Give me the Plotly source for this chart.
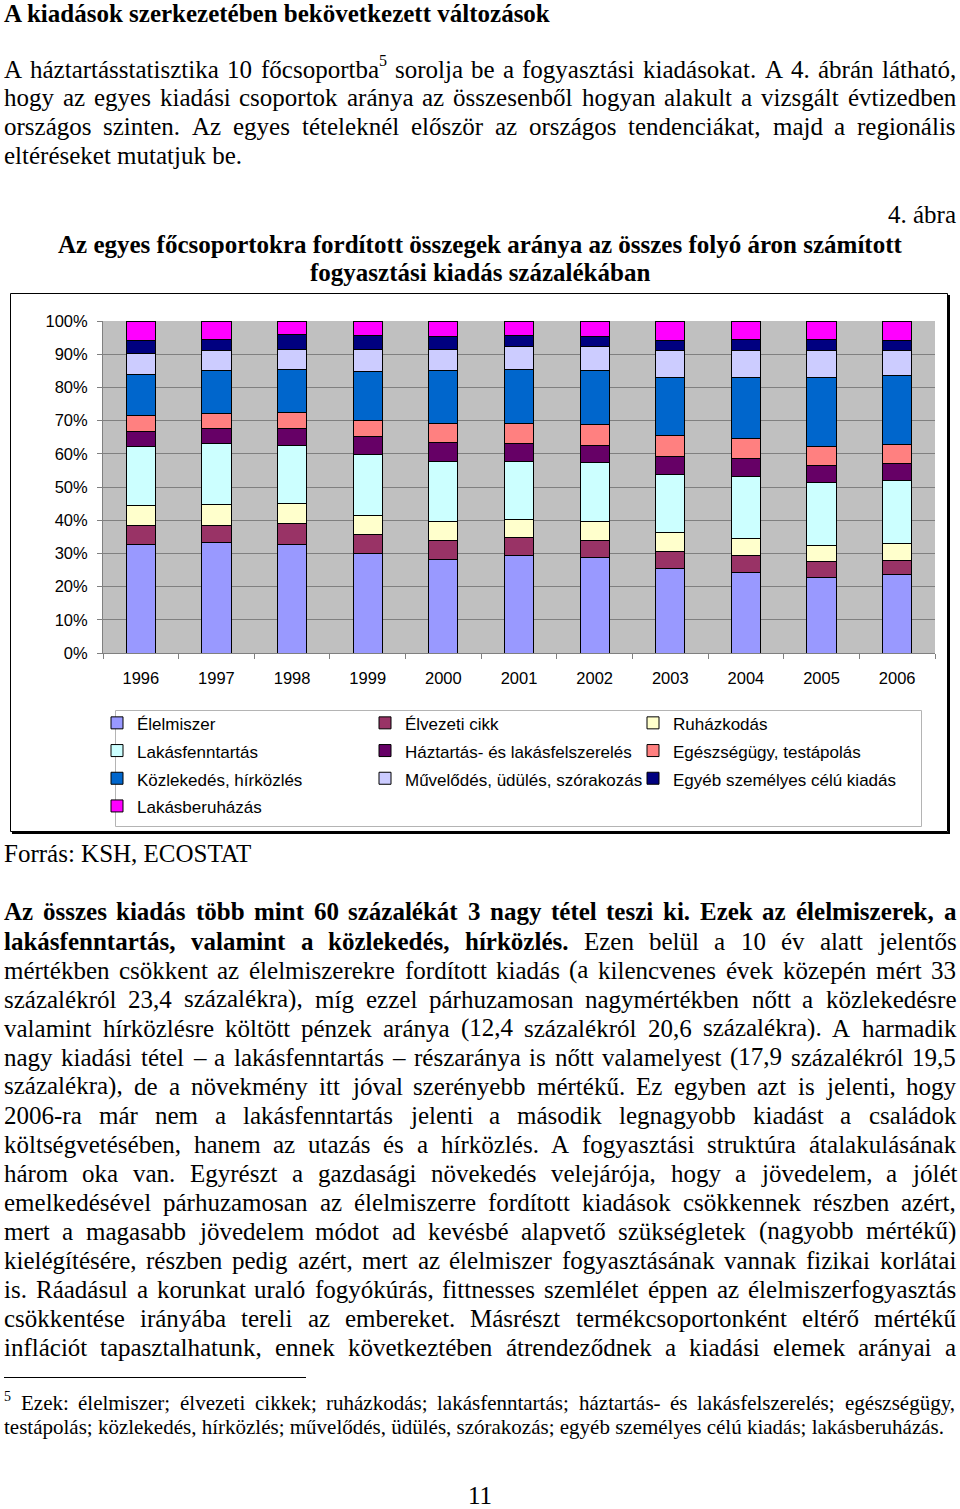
import unicodedata
import plotly.graph_objects as go

W, H = 960, 1509
SERIF = "Liberation Serif, Times New Roman, serif"
SANS = "Liberation Sans, Arial, sans-serif"

# ---------------- chart data ----------------
years = ["1996", "1997", "1998", "1999", "2000", "2001", "2002", "2003", "2004", "2005", "2006"]
elelmiszer = [32.7, 33.2, 32.7, 29.9, 28.3, 29.3, 28.7, 25.5, 24.2, 22.7, 23.5]
elvezeti = [5.8, 5.3, 6.3, 5.8, 5.7, 5.4, 5.3, 5.2, 5.3, 5.0, 4.5]
ruhazkodas = [6.0, 6.2, 6.0, 5.6, 5.7, 5.6, 5.7, 5.5, 5.0, 4.8, 5.0]
lakasfenntartas = [17.7, 18.3, 17.6, 18.5, 18.0, 17.4, 17.6, 17.6, 18.8, 18.8, 19.0]
haztartas = [4.6, 4.7, 5.1, 5.5, 5.6, 5.5, 5.2, 5.4, 5.4, 5.2, 5.2]
egeszseg = [4.7, 4.3, 4.8, 4.7, 5.9, 5.8, 6.3, 6.3, 6.0, 5.8, 5.6]
kozlekedes = [12.3, 13.0, 12.9, 14.7, 15.8, 16.3, 16.2, 17.5, 18.3, 20.7, 20.7]
muvelodes = [6.4, 6.0, 6.1, 6.8, 6.5, 6.9, 7.2, 8.0, 8.0, 8.0, 7.5]
egyeb = [4.0, 3.5, 4.3, 4.2, 3.8, 3.5, 3.1, 3.2, 3.5, 3.5, 3.2]
lakasberuhazas = [5.8, 5.5, 4.2, 4.3, 4.7, 4.3, 4.7, 5.8, 5.5, 5.5, 5.8]

series_names = ["Élelmiszer", "Élvezeti cikk", "Ruházkodás", "Lakásfenntartás",
                "Háztartás- és lakásfelszerelés", "Egészségügy, testápolás",
                "Közlekedés, hírközlés", "Művelődés, üdülés, szórakozás",
                "Egyéb személyes célú kiadás", "Lakásberuházás"]
series_values = [elelmiszer, elvezeti, ruhazkodas, lakasfenntartas, haztartas,
                 egeszseg, kozlekedes, muvelodes, egyeb, lakasberuhazas]
series_colors = ["#9999FF", "#993366", "#FFFFCC", "#CCFFFF", "#660066",
                 "#FF8080", "#0066CC", "#CCCCFF", "#000080", "#FF00FF"]

# ---------------- page text ----------------
heading = "A kiadások szerkezetében bekövetkezett változások"
para1 = [
    "A háztartásstatisztika 10 főcsoportba^5 sorolja be a fogyasztási kiadásokat. A 4. ábrán látható,",
    "hogy az egyes kiadási csoportok aránya az összesenből hogyan alakult a vizsgált évtizedben",
    "országos szinten. Az egyes tételeknél először az országos tendenciákat, majd a regionális",
]
para1_last = "eltéréseket mutatjuk be."
fig_label = "4. ábra"
chart_title = ["Az egyes főcsoportokra fordított összegek aránya az összes folyó áron számított",
               "fogyasztási kiadás százalékában"]
source = "Forrás: KSH, ECOSTAT"
para2 = [
    "**Az összes kiadás több mint 60 százalékát 3 nagy tétel teszi ki. Ezek az élelmiszerek, a**",
    "**lakásfenntartás, valamint a közlekedés, hírközlés.** Ezen belül a 10 év alatt jelentős",
    "mértékben csökkent az élelmiszerekre fordított kiadás (a kilencvenes évek közepén mért 33",
    "százalékról 23,4 százalékra), míg ezzel párhuzamosan nagymértékben nőtt a közlekedésre",
    "valamint hírközlésre költött pénzek aránya (12,4 százalékról 20,6 százalékra). A harmadik",
    "nagy kiadási tétel – a lakásfenntartás – részaránya is nőtt valamelyest (17,9 százalékról 19,5",
    "százalékra), de a növekmény itt jóval szerényebb mértékű. Ez egyben azt is jelenti, hogy",
    "2006-ra már nem a lakásfenntartás jelenti a második legnagyobb kiadást a családok",
    "költségvetésében, hanem az utazás és a hírközlés. A fogyasztási struktúra átalakulásának",
    "három oka van. Egyrészt a gazdasági növekedés velejárója, hogy a jövedelem, a jólét",
    "emelkedésével párhuzamosan az élelmiszerre fordított kiadások csökkennek részben azért,",
    "mert a magasabb jövedelem módot ad kevésbé alapvető szükségletek (nagyobb mértékű)",
    "kielégítésére, részben pedig azért, mert az élelmiszer fogyasztásának vannak fizikai korlátai",
    "is. Ráadásul a korunkat uraló fogyókúrás, fittnesses szemlélet éppen az élelmiszerfogyasztás",
    "csökkentése irányába tereli az embereket. Másrészt termékcsoportonként eltérő mértékű",
    "inflációt tapasztalhatunk, ennek következtében átrendeződnek a kiadási elemek arányai a",
]
footnote1 = "^5 Ezek: élelmiszer; élvezeti cikkek; ruházkodás; lakásfenntartás; háztartás- és lakásfelszerelés; egészségügy,"
footnote2 = "testápolás; közlekedés, hírközlés; művelődés, üdülés, szórakozás; egyéb személyes célú kiadás; lakásberuházás."
page_number = "11"

# Times New Roman / Liberation Serif advance widths (per 1000 em)
REG = {' ': 250, 'a': 444, 'b': 500, 'c': 444, 'd': 500, 'e': 444, 'f': 333, 'g': 500, 'h': 500,
       'i': 278, 'j': 278, 'k': 500, 'l': 278, 'm': 778, 'n': 500, 'o': 500, 'p': 500, 'q': 500,
       'r': 333, 's': 389, 't': 278, 'u': 500, 'v': 500, 'w': 722, 'x': 500, 'y': 500, 'z': 444,
       'A': 722, 'B': 667, 'C': 667, 'D': 722, 'E': 611, 'F': 556, 'G': 722, 'H': 722, 'I': 333,
       'J': 389, 'K': 722, 'L': 611, 'M': 889, 'N': 722, 'O': 722, 'P': 556, 'Q': 722, 'R': 667,
       'S': 556, 'T': 611, 'U': 722, 'V': 722, 'W': 944, 'X': 722, 'Y': 722, 'Z': 611,
       '.': 250, ',': 250, ':': 278, ';': 278, '(': 333, ')': 333, '-': 333, '–': 500, '%': 833}
BOLD = {' ': 250, 'a': 500, 'b': 556, 'c': 444, 'd': 556, 'e': 444, 'f': 333, 'g': 500, 'h': 556,
        'i': 278, 'j': 333, 'k': 556, 'l': 278, 'm': 833, 'n': 556, 'o': 500, 'p': 556, 'q': 556,
        'r': 444, 's': 389, 't': 333, 'u': 556, 'v': 500, 'w': 722, 'x': 500, 'y': 500, 'z': 444,
        'A': 722, 'B': 667, 'C': 722, 'D': 722, 'E': 667, 'F': 611, 'G': 778, 'H': 778, 'I': 389,
        'K': 778, 'L': 667, 'M': 944, 'N': 722, 'O': 778, 'P': 611, 'R': 722, 'S': 556, 'T': 667,
        'U': 722, 'V': 722, 'W': 1000, 'Z': 667,
        '.': 250, ',': 250, ':': 333, ';': 333, '(': 333, ')': 333, '-': 333, '–': 500, '%': 1000}


def text_w(s, size, bold=False):
    t = BOLD if bold else REG
    tot = 0
    for c in s:
        if c.isdigit():
            tot += 500
            continue
        b = unicodedata.normalize('NFD', c)[0]
        tot += t.get(c, t.get(b, 500))
    return tot * size / 1000.0


annotations = []


def px(x):
    return x / W


def py(y):
    return 1 - y / H


def add_text(text, x, y, size, family=SERIF, xanchor='left', bold=False, yanchor='middle'):
    annotations.append(dict(
        text=f"<b>{text}</b>" if bold else text, x=px(x), y=py(y), xref='paper', yref='paper',
        xanchor=xanchor, yanchor=yanchor, showarrow=False, borderpad=0, borderwidth=0,
        font=dict(family=family, size=size, color='black')))


def parse_words(line):
    words = []
    bold = False
    for i, seg in enumerate(line.split('**')):
        if i > 0:
            bold = not bold
        for w in seg.split():
            sup = ''
            if '^' in w:
                w, sup = w.split('^')
            words.append((w, bold, sup))
    return words


def justified(line, y, size, x0=4, x1=956):
    words = parse_words(line)
    sup_size = round(size * 0.65)
    widths = [text_w(w, size, b) + (text_w(s, sup_size) if s else 0) for w, b, s in words]
    gap = (x1 - x0 - sum(widths)) / (len(words) - 1)
    gap = max(gap, 0.12 * size)
    x = x0
    for (w, b, s), wd in zip(words, widths):
        if w:
            add_text(w, x, y, size, bold=b)
        if s:
            add_text(s, x + text_w(w, size, b), y - 0.33 * size, sup_size)
        x += wd + gap


# heading and first paragraph
add_text(heading, 4, 0, 25, bold=True, yanchor='top')
for i, ln in enumerate(para1):
    justified(ln, 69 + 29 * i, 25)
add_text(para1_last, 4, 69 + 29 * 3, 25)

add_text(fig_label, 956, 214, 25, xanchor='right')
add_text(chart_title[0], 480, 244, 25, xanchor='center', bold=True)
add_text(chart_title[1], 480, 273, 25, xanchor='center', bold=True)
add_text(source, 4, 853, 25)

for i, ln in enumerate(para2):
    justified(ln, 912 + 29 * i, 25)

justified(footnote1, 1403, 21)
add_text(footnote2, 4, 1427, 21)
add_text(page_number, 480, 1509, 25, xanchor='center', yanchor='bottom')

# ---------------- figure ----------------
fig = go.Figure()
for name, vals, col in zip(series_names, series_values, series_colors):
    fig.add_trace(go.Bar(
        x=years, y=vals, name=f'<span style="font-size:17px">{name}</span>',
        marker=dict(color=col, line=dict(color='black', width=1)),
        hoverinfo='skip'))

shapes = [
    # outer chart frame with shadow
    dict(type='rect', xref='paper', yref='paper', x0=px(10.5), x1=px(947.5), y0=py(831.5), y1=py(293.5),
         line=dict(color='black', width=1)),
    dict(type='line', xref='paper', yref='paper', x0=px(949), x1=px(949), y0=py(295), y1=py(833),
         line=dict(color='black', width=2)),
    dict(type='line', xref='paper', yref='paper', x0=px(12), x1=px(950), y0=py(833), y1=py(833),
         line=dict(color='black', width=2)),
    # legend box
    dict(type='rect', xref='paper', yref='paper', x0=px(115.5), x1=px(921.5), y0=py(826.5), y1=py(710.5),
         line=dict(color='#B4B4B4', width=1)),
    # footnote separator
    dict(type='line', xref='paper', yref='paper', x0=px(4), x1=px(306), y0=py(1377.5), y1=py(1377.5),
         line=dict(color='black', width=1.2)),
]

fig.update_layout(
    width=W, height=H, margin=dict(l=0, r=0, t=0, b=0, pad=0, autoexpand=False),
    paper_bgcolor='white', plot_bgcolor='#C0C0C0',
    barmode='stack', bargap=0.615,
    showlegend=True,
    legend=dict(orientation='h', x=px(97), xanchor='left', y=py(704), yanchor='top',
                font=dict(family=SANS, size=19, color='black'),
                entrywidth=223, entrywidthmode='pixels', traceorder='normal',
                bgcolor='rgba(0,0,0,0)', borderwidth=0),
    xaxis=dict(domain=[px(103), px(935)], type='category', showgrid=False, automargin=False,
               showline=True, linecolor='#808080', linewidth=1,
               ticks='outside', tickson='boundaries', ticklen=5, tickcolor='#808080',
               tickfont=dict(family=SANS, size=16.5, color='black'), ticklabelstandoff=10),
    yaxis=dict(domain=[py(653), py(321)], range=[0, 100], dtick=10, ticksuffix='%',
               showgrid=True, gridcolor='#808080', gridwidth=1, zeroline=False, automargin=False,
               showline=True, linecolor='#808080', linewidth=1,
               ticks='outside', ticklen=5, tickcolor='#808080',
               tickfont=dict(family=SANS, size=16.5, color='black'), ticklabelstandoff=6),
    shapes=shapes, annotations=annotations,
)

fig.write_html("out.html", config={'displayModeBar': False},
               post_script="document.body.style.margin='0';document.body.style.overflow='hidden';")
